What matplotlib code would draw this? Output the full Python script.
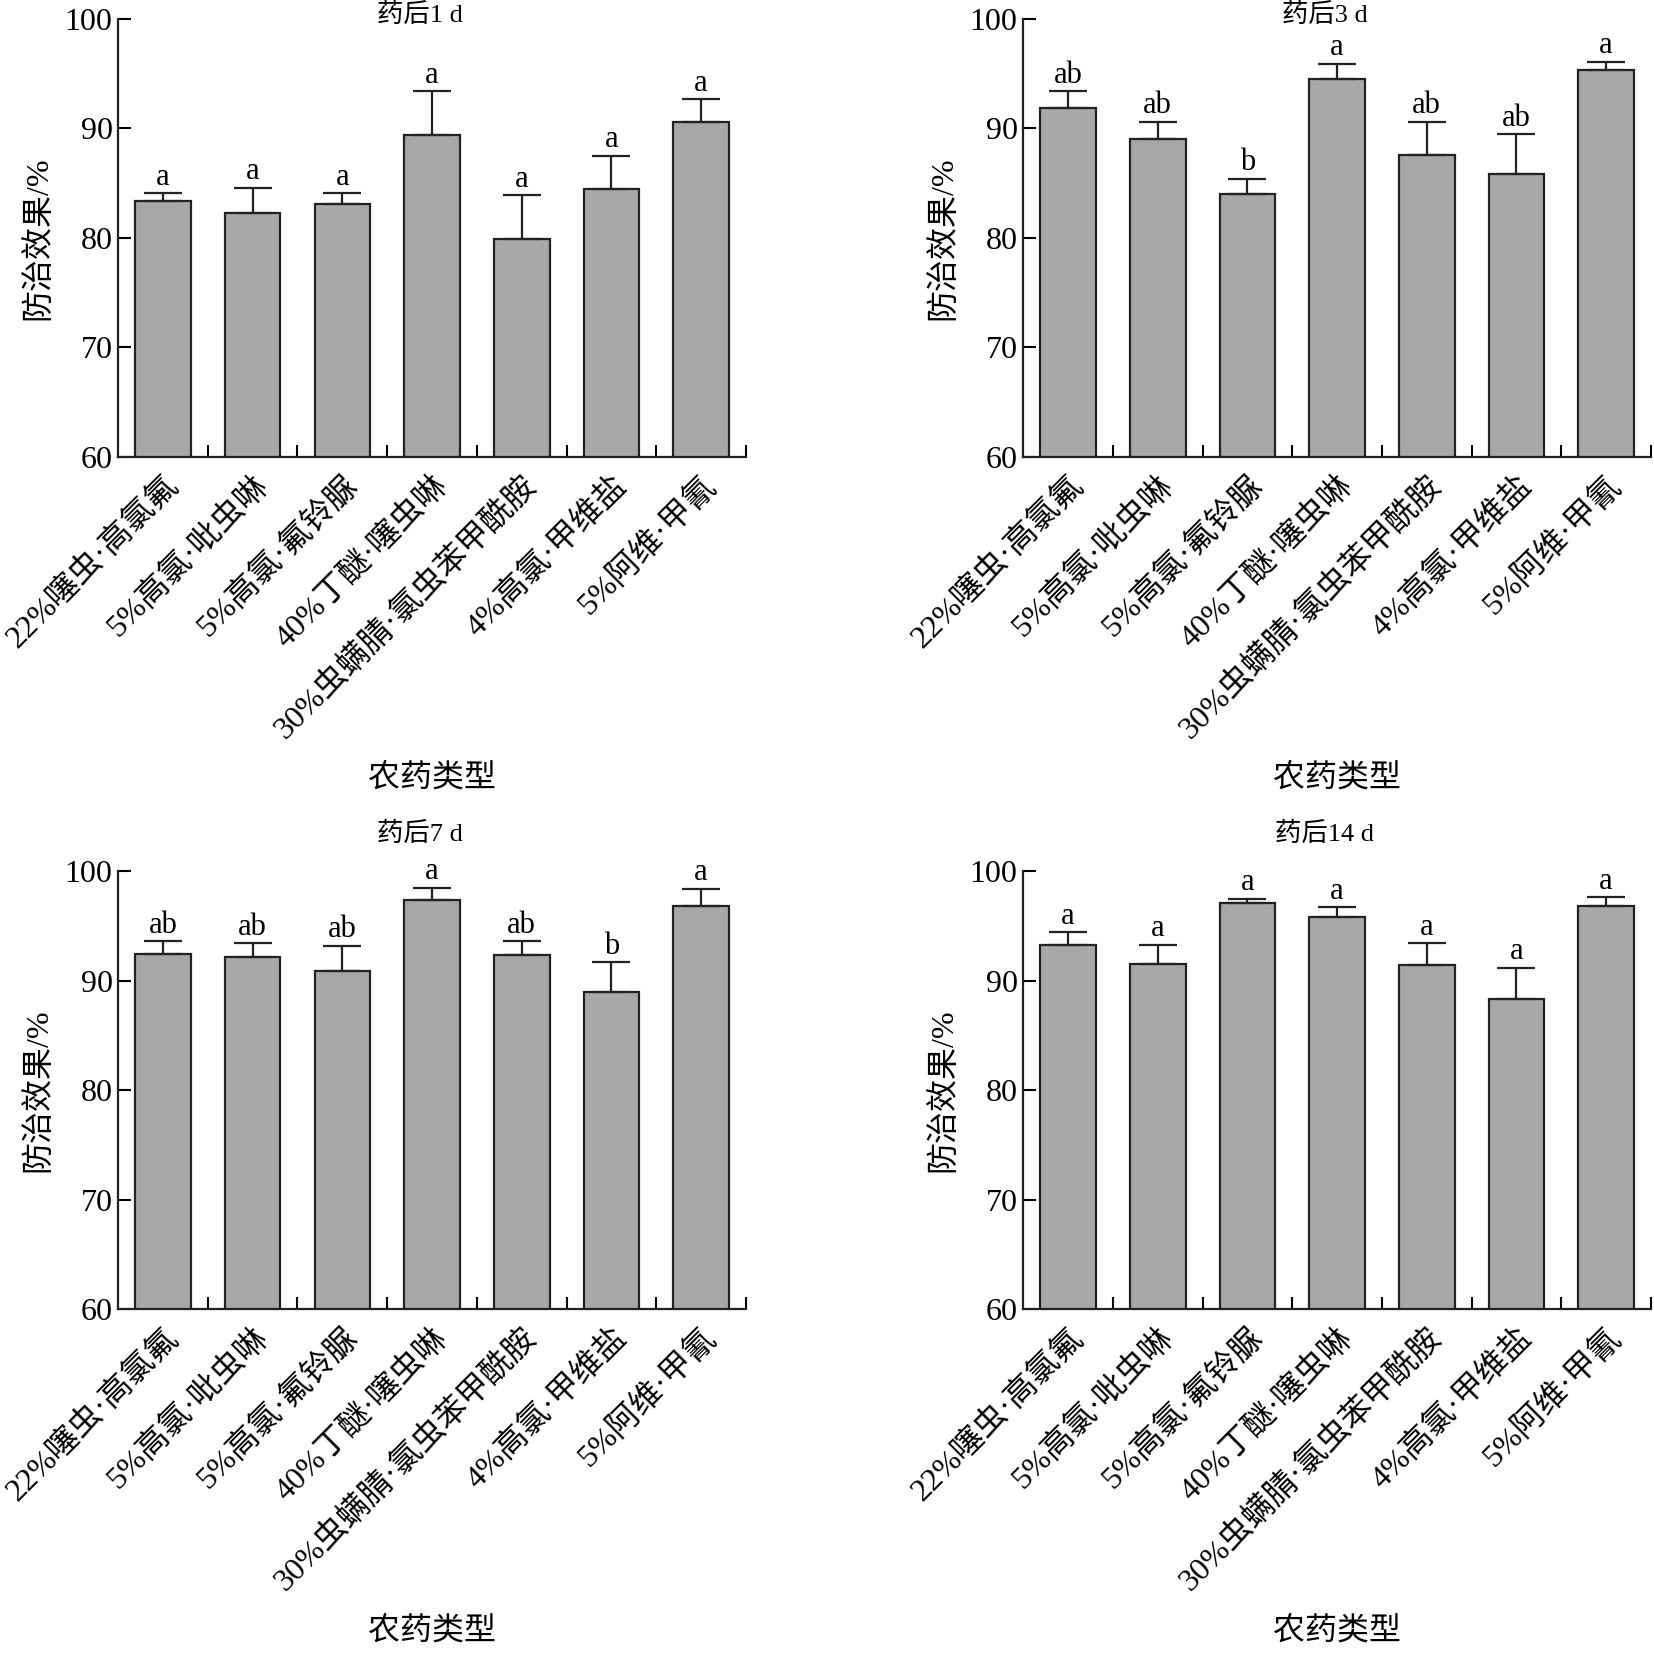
import numpy as np
import matplotlib
matplotlib.use("Agg")
import matplotlib.pyplot as plt

plt.rcParams["font.family"] = ["Liberation Serif", "Noto Sans CJK SC"]

# pesticide treatments (x categories)
labels = ["22%噻虫·高氯氟", "5%高氯·吡虫啉", "5%高氯·氟铃脲", "40%丁醚·噻虫啉",
          "30%虫螨腈·氯虫苯甲酰胺", "4%高氯·甲维盐", "5%阿维·甲氰"]

titles = ["药后1 d", "药后3 d", "药后7 d", "药后14 d"]

# control efficacy (%) per panel
mean_1d = [83.4, 82.3, 83.1, 89.4, 79.9, 84.5, 90.6]
err_1d = [0.7, 2.3, 1.0, 4.0, 4.0, 3.0, 2.1]
sig_1d = ["a", "a", "a", "a", "a", "a", "a"]

mean_3d = [91.9, 89.0, 84.0, 94.5, 87.6, 85.8, 95.3]
err_3d = [1.5, 1.6, 1.4, 1.4, 3.0, 3.7, 0.8]
sig_3d = ["ab", "ab", "b", "a", "ab", "ab", "a"]

mean_7d = [92.4, 92.2, 90.9, 97.4, 92.3, 89.0, 96.8]
err_7d = [1.2, 1.2, 2.3, 1.1, 1.3, 2.7, 1.6]
sig_7d = ["ab", "ab", "ab", "a", "ab", "b", "a"]

mean_14d = [93.3, 91.5, 97.1, 95.8, 91.4, 88.3, 96.8]
err_14d = [1.1, 1.8, 0.4, 0.9, 2.0, 2.9, 0.8]
sig_14d = ["a", "a", "a", "a", "a", "a", "a"]

panels = [
    (mean_1d, err_1d, sig_1d),
    (mean_3d, err_3d, sig_3d),
    (mean_7d, err_7d, sig_7d),
    (mean_14d, err_14d, sig_14d),
]

# axes rectangles in figure fractions
rects = [
    [0.0714, 0.7237, 0.3796, 0.2648],
    [0.6186, 0.7237, 0.3796, 0.2648],
    [0.0714, 0.2080, 0.3796, 0.2650],
    [0.6186, 0.2080, 0.3796, 0.2650],
]
title_y = [1.01, 1.01, 1.084, 1.084]

BAR_COLOR = "#a7a8aa"
EDGE = "#222222"

fig = plt.figure(figsize=(16.54, 16.53), dpi=100)

for k, (rect, (mean, err, sig)) in enumerate(zip(rects, panels)):
    ax = fig.add_axes(rect)
    x = np.arange(len(labels))
    ax.bar(x, mean, width=0.62, bottom=0, color=BAR_COLOR, edgecolor=EDGE,
           linewidth=1.6, zorder=2)
    ax.errorbar(x, mean, yerr=[np.zeros(len(err)), err], fmt="none",
                ecolor=EDGE, elinewidth=1.6, capsize=14, capthick=1.6, zorder=3)
    for xi, m, e, s in zip(x, mean, err, sig):
        ax.annotate(s, (xi, m + e), xytext=(0, 1), textcoords="offset points",
                    ha="center", va="bottom", fontsize=22)

    ax.set_xlim(-0.5, 6.5)
    ax.set_ylim(60, 100)
    ax.set_yticks([60, 70, 80, 90, 100])
    ax.tick_params(axis="y", direction="in", length=9, width=1.5,
                   labelsize=23, pad=4)
    ax.set_xticks(x)
    ax.set_xticklabels(labels, rotation=45, ha="right", va="top",
                       rotation_mode="anchor", fontsize=23)
    ax.tick_params(axis="x", which="major", length=0, pad=10)
    ax.set_xticks(x + 0.5, minor=True)
    ax.tick_params(axis="x", which="minor", direction="in", length=9, width=1.5)

    for side in ("top", "right"):
        ax.spines[side].set_visible(False)
    for side in ("left", "bottom"):
        ax.spines[side].set_linewidth(1.6)
        ax.spines[side].set_color(EDGE)

    ax.text(0.48, title_y[k], titles[k], transform=ax.transAxes,
            ha="center", va="center", fontsize=19)
    ax.set_ylabel("防治效果/%", fontsize=23, labelpad=8)
    ax.set_xlabel("农药类型", fontsize=23, labelpad=14)

fig.savefig("out.png", dpi=100)
